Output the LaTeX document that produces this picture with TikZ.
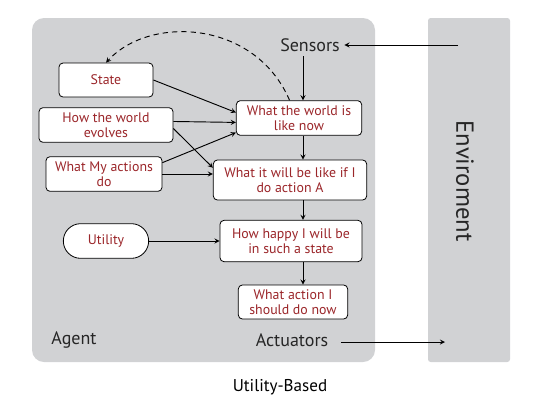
\documentclass[tikz,border=0pt]{standalone}
\usepackage{fontspec}
\setmainfont{PT Sans}
\usepackage{tikz}
\definecolor{panelgray}{RGB}{209,210,212}
\definecolor{boxtext}{RGB}{155,38,42}

\begin{document}
\begin{tikzpicture}[x=0.75pt, y=-0.75pt, font=\fontsize{10.4}{11.5}\selectfont, >=stealth, thin,
    box/.style = {draw, fill=white, rounded corners=3pt, text=boxtext, align=center, inner sep=1pt, line width=0.6pt},
    plain/.style = {font=\fontsize{13.5}{15}\selectfont, text=black!85},
    link/.style = {->, line width=0.7pt}]
    \useasboundingbox (0,0) rectangle (546,405);
    \fill[panelgray, rounded corners=9pt] (32,18) rectangle (375,362);
    \fill[panelgray, rounded corners=2pt] (428,18) rectangle (510,362);
    \node[plain] (sensors) at (310,45) {Sensors};
    \node[plain] (actuators) at (292,340) {Actuators};
    \node[plain] (agent) at (74,340) {Agent};
    \node[plain, font=\fontsize{18.5}{20}\selectfont, rotate=-90] (env) at (465,181) {Enviroment};
    \node[font=\fontsize{12.8}{14}\selectfont] (title) at (280,387) {Utility-Based};
    \node[box, minimum width=70.5pt, minimum height=25.5pt] (state) at (106,80) {State};
    \node[box, minimum width=100.5pt, minimum height=26pt] (evolves) at (106,125) {How the world\\evolves};
    \node[box, minimum width=87pt, minimum height=26pt] (actions) at (104,174) {What My actions\\do};
    \node[box, minimum width=64pt, minimum height=26pt, rounded corners=13pt] (utility) at (106,241) {Utility};
    \node[box, minimum width=94pt, minimum height=26pt] (world) at (299,118) {What the world is\\like now};
    \node[box, minimum width=115pt, minimum height=30pt] (will) at (290,180) {What it will be like if I\\do action A};
    \node[box, minimum width=106.5pt, minimum height=31pt] (happy) at (291,241) {How happy I will be\\in such a state};
    \node[box, minimum width=82pt, minimum height=25.5pt] (action) at (293,302) {What action I\\should do now};
    \coordinate (col) at (303,0);
    \coordinate (envin) at (458,45);
    \coordinate (envout) at (445,342);
    \draw[link] (envin) -- (sensors.east);
    \draw[link] (actuators.east |- envout) ++(8,0) -- (envout);
    \draw[link] (col |- sensors.south) -- (col |- world.north);
    \draw[link] (col |- world.south) -- (col |- will.north);
    \draw[link] (col |- will.south) -- (col |- happy.north);
    \draw[link] (col |- happy.south) -- (col |- action.north);
    \draw[link] (state.east) -- (world.175);
    \draw[link] (evolves.3) -- (world.184);
    \draw[link] (evolves.357) -- (will.171);
    \draw[link] (actions.11) -- (world.193);
    \draw[link] (actions.east) -- (will.west |- actions.east);
    \draw[link] (utility.east) -- (happy.west);
    \draw[link, dash pattern=on 4pt off 3pt] (world.118) .. controls (255,20) and (150,15) .. (state.north);
\end{tikzpicture}
\end{document}
